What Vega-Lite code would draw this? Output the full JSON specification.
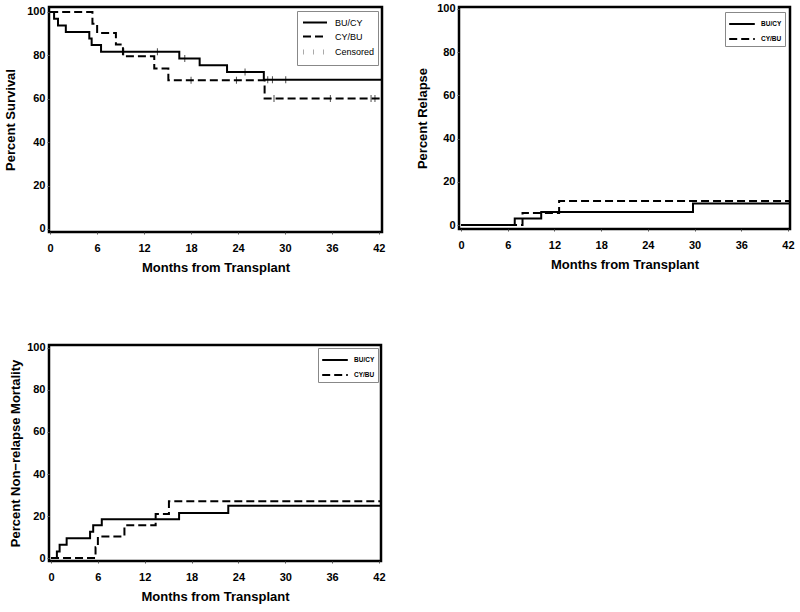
{
  "$schema": "https://vega.github.io/schema/vega-lite/v6.json",
  "padding": {"left": 3, "top": 1, "right": 1, "bottom": 2},
  "background": "white",
  "config": {
    "view": {"stroke": "black", "strokeWidth": 2.5},
    "axis": {
      "labelFont": "Liberation Sans", "labelFontSize": 11, "labelFontWeight": "bold", "labelColor": "black",
      "titleFont": "Liberation Sans", "titleFontSize": 13, "titleFontWeight": "bold", "titleColor": "black",
      "tickColor": "#555555", "tickSize": 2, "tickWidth": 1, "domain": false, "grid": false
    },
    "axisX": {"labelPadding": 8, "titlePadding": 8},
    "axisY": {"labelPadding": 2, "titlePadding": 9},
    "legend": {
      "labelFont": "Liberation Sans", "labelColor": "black", "symbolType": "M-1.6,0H1.6", "symbolSize": 225,
      "symbolOffset": 5, "strokeColor": "#888888", "fillColor": "white", "orient": "top-right", "offset": 4,
      "padding": 3, "rowPadding": 0, "labelOffset": 10, "title": null
    }
  },
  "datasets": {
    "surv": [
      {"group": "BU/CY", "month": 0, "pct": 100},
      {"group": "BU/CY", "month": 0.5, "pct": 96.9},
      {"group": "BU/CY", "month": 1.0, "pct": 93.8},
      {"group": "BU/CY", "month": 2.0, "pct": 90.8},
      {"group": "BU/CY", "month": 5.0, "pct": 87.8},
      {"group": "BU/CY", "month": 5.3, "pct": 84.8},
      {"group": "BU/CY", "month": 6.5, "pct": 81.7},
      {"group": "BU/CY", "month": 16.5, "pct": 78.6},
      {"group": "BU/CY", "month": 19.1, "pct": 75.4},
      {"group": "BU/CY", "month": 22.6, "pct": 72.3},
      {"group": "BU/CY", "month": 27.3, "pct": 68.8},
      {"group": "BU/CY", "month": 42.3, "pct": 68.8},
      {"group": "CY/BU", "month": 0, "pct": 100},
      {"group": "CY/BU", "month": 5.4, "pct": 94.6},
      {"group": "CY/BU", "month": 6.0, "pct": 90.3},
      {"group": "CY/BU", "month": 8.4, "pct": 85.0},
      {"group": "CY/BU", "month": 9.3, "pct": 79.6},
      {"group": "CY/BU", "month": 13.3, "pct": 73.9},
      {"group": "CY/BU", "month": 15.1, "pct": 68.5},
      {"group": "CY/BU", "month": 27.4, "pct": 60.1},
      {"group": "CY/BU", "month": 42.3, "pct": 60.1}
    ],
    "survc": [
      {"group": "BU/CY", "month": 9.4, "pct": 81.7},
      {"group": "BU/CY", "month": 13.7, "pct": 81.7},
      {"group": "BU/CY", "month": 17.2, "pct": 78.6},
      {"group": "BU/CY", "month": 24.9, "pct": 72.3},
      {"group": "BU/CY", "month": 27.8, "pct": 68.8},
      {"group": "BU/CY", "month": 28.4, "pct": 68.8},
      {"group": "BU/CY", "month": 30.1, "pct": 68.8},
      {"group": "CY/BU", "month": 18.0, "pct": 68.5},
      {"group": "CY/BU", "month": 23.8, "pct": 68.5},
      {"group": "CY/BU", "month": 28.6, "pct": 60.1},
      {"group": "CY/BU", "month": 35.8, "pct": 60.1},
      {"group": "CY/BU", "month": 41.0, "pct": 60.1},
      {"group": "CY/BU", "month": 41.5, "pct": 60.1}
    ],
    "rel": [
      {"group": "BU/CY", "month": 0, "pct": 0},
      {"group": "BU/CY", "month": 6.9, "pct": 3.0},
      {"group": "BU/CY", "month": 10.3, "pct": 6.0},
      {"group": "BU/CY", "month": 29.8, "pct": 10.0},
      {"group": "BU/CY", "month": 42.3, "pct": 10.0},
      {"group": "CY/BU", "month": 0, "pct": 0},
      {"group": "CY/BU", "month": 7.9, "pct": 5.6},
      {"group": "CY/BU", "month": 12.6, "pct": 11.1},
      {"group": "CY/BU", "month": 42.3, "pct": 11.1}
    ],
    "nrm": [
      {"group": "BU/CY", "month": 0, "pct": 0},
      {"group": "BU/CY", "month": 0.75, "pct": 3.1},
      {"group": "BU/CY", "month": 1.1, "pct": 6.3},
      {"group": "BU/CY", "month": 2.0, "pct": 9.4},
      {"group": "BU/CY", "month": 5.0, "pct": 12.5},
      {"group": "BU/CY", "month": 5.4, "pct": 15.6},
      {"group": "BU/CY", "month": 6.5, "pct": 18.5},
      {"group": "BU/CY", "month": 16.4, "pct": 21.5},
      {"group": "BU/CY", "month": 22.7, "pct": 24.9},
      {"group": "BU/CY", "month": 42.3, "pct": 24.9},
      {"group": "CY/BU", "month": 0, "pct": 0},
      {"group": "CY/BU", "month": 5.7, "pct": 5.2},
      {"group": "CY/BU", "month": 6.0, "pct": 10.3},
      {"group": "CY/BU", "month": 9.4, "pct": 15.6},
      {"group": "CY/BU", "month": 13.4, "pct": 21.0},
      {"group": "CY/BU", "month": 15.1, "pct": 27.0},
      {"group": "CY/BU", "month": 42.3, "pct": 27.0}
    ]
  },
  "columns": 2,
  "align": {"row": "all", "column": "none"},
  "spacing": {"row": 64, "column": 28},
  "resolve": {"scale": {"color": "independent", "strokeDash": "independent", "strokeWidth": "independent"}, "legend": {"color": "independent", "strokeDash": "independent", "strokeWidth": "independent"}},
  "concat": [
    {
      "width": 333, "height": 225,
      "layer": [
        {
          "data": {"name": "surv"},
          "mark": {"type": "line", "interpolate": "step-after"},
          "encoding": {
            "x": {"field": "month", "type": "quantitative", "scale": {"domain": [-0.15, 42.4], "nice": false, "zero": false}, "axis": {"values": [0, 6, 12, 18, 24, 30, 36, 42], "title": "Months from Transplant"}},
            "y": {"field": "pct", "type": "quantitative", "scale": {"domain": [-1.4, 102.3], "nice": false, "zero": false}, "axis": {"values": [0, 20, 40, 60, 80, 100], "title": "Percent Survival", "titlePadding": 9}},
            "color": {"field": "group", "type": "nominal", "scale": {"domain": ["BU/CY", "CY/BU", "Censored"], "range": ["black", "black", "#aaaaaa"]}, "legend": {"labelFontSize": 9, "offset": 4}},
            "strokeDash": {"field": "group", "type": "nominal", "scale": {"domain": ["BU/CY", "CY/BU", "Censored"], "range": [[1, 0], [8, 4], [1, 9]]}, "legend": {"labelFontSize": 9, "offset": 4}},
            "strokeWidth": {"field": "group", "type": "nominal", "scale": {"type": "ordinal", "domain": ["BU/CY", "CY/BU", "Censored"], "range": [2, 2, 5]}, "legend": {"labelFontSize": 9, "offset": 4}}
          }
        },
        {
          "data": {"name": "survc"},
          "mark": {"type": "tick", "orient": "vertical", "color": "black", "size": 7, "thickness": 1},
          "encoding": {
            "x": {"field": "month", "type": "quantitative"},
            "y": {"field": "pct", "type": "quantitative"}
          }
        }
      ]
    },
    {
      "width": 331, "height": 222,
      "data": {"name": "rel"},
      "mark": {"type": "line", "interpolate": "step-after", "strokeWidth": 2},
      "encoding": {
        "x": {"field": "month", "type": "quantitative", "scale": {"domain": [-0.26, 42.26], "nice": false, "zero": false}, "axis": {"values": [0, 6, 12, 18, 24, 30, 36, 42], "title": "Months from Transplant"}},
        "y": {"field": "pct", "type": "quantitative", "scale": {"domain": [-1.85, 100.9], "nice": false, "zero": false}, "axis": {"values": [0, 20, 40, 60, 80, 100], "title": "Percent Relapse", "titlePadding": 7}},
        "color": {"field": "group", "type": "nominal", "scale": {"domain": ["BU/CY", "CY/BU"], "range": ["black", "black"]}, "legend": {"labelFontSize": 6.5, "labelFontWeight": "bold", "symbolStrokeWidth": 2, "symbolSize": 256, "offset": 5, "rowPadding": 2}},
        "strokeDash": {"field": "group", "type": "nominal", "scale": {"domain": ["BU/CY", "CY/BU"], "range": [[1, 0], [8, 4]]}, "legend": {"labelFontSize": 6.5, "labelFontWeight": "bold", "symbolStrokeWidth": 2, "symbolSize": 256, "offset": 5, "rowPadding": 2}}
      }
    },
    {
      "width": 332, "height": 216,
      "data": {"name": "nrm"},
      "mark": {"type": "line", "interpolate": "step-after", "strokeWidth": 2},
      "encoding": {
        "x": {"field": "month", "type": "quantitative", "scale": {"domain": [-0.26, 42.26], "nice": false, "zero": false}, "axis": {"values": [0, 6, 12, 18, 24, 30, 36, 42], "title": "Months from Transplant"}},
        "y": {"field": "pct", "type": "quantitative", "scale": {"domain": [-1.4, 101.4], "nice": false, "zero": false}, "axis": {"values": [0, 20, 40, 60, 80, 100], "title": "Percent Non\u2212relapse Mortality", "titlePadding": 4}},
        "color": {"field": "group", "type": "nominal", "scale": {"domain": ["BU/CY", "CY/BU"], "range": ["black", "black"]}, "legend": {"labelFontSize": 6.5, "labelFontWeight": "bold", "symbolStrokeWidth": 2, "symbolSize": 256, "offset": 3, "rowPadding": 2}},
        "strokeDash": {"field": "group", "type": "nominal", "scale": {"domain": ["BU/CY", "CY/BU"], "range": [[1, 0], [8, 4]]}, "legend": {"labelFontSize": 6.5, "labelFontWeight": "bold", "symbolStrokeWidth": 2, "symbolSize": 256, "offset": 3, "rowPadding": 2}}
      }
    }
  ]
}
